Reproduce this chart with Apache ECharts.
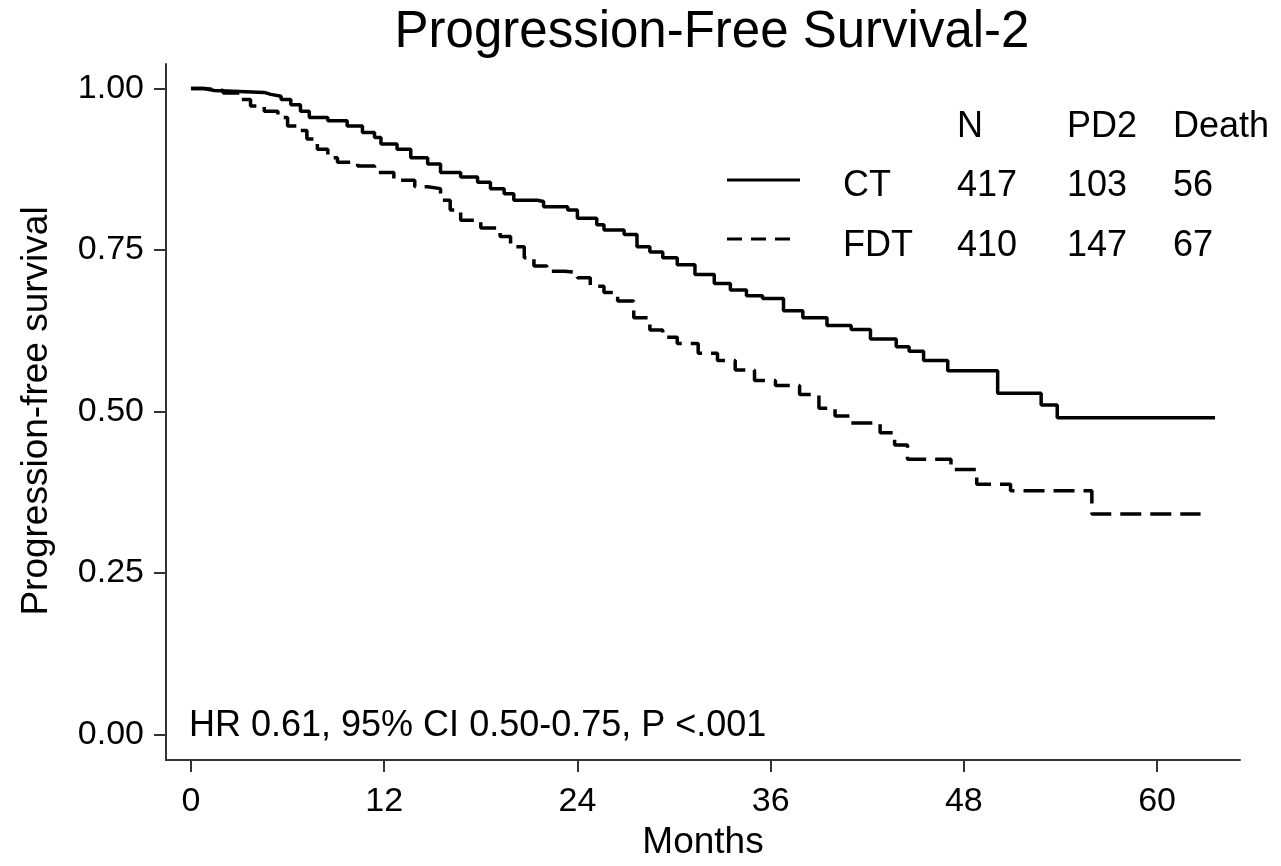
<!DOCTYPE html>
<html>
<head>
<meta charset="utf-8">
<script src="https://cdn.jsdelivr.net/npm/echarts@6/dist/echarts.min.js"></script>
<style>html,body{margin:0;padding:0;background:#fff;overflow:hidden;}#c{width:1281px;height:866px;}</style>
</head>
<body>
<div id="c"></div>
<script>
const titleText = 'Progression-Free Survival-2';
const xTicks = [0, 12, 24, 36, 48, 60];
const yTicks = [0, 0.25, 0.5, 0.75, 1.0];

const ctTime = [0, 0.8, 1.45, 4.55, 4.96, 5.6, 6.2, 6.8, 7.35, 8.5, 9.7, 10.65, 11.4, 11.8, 12.8, 13.65, 14.7, 15.5, 16.75, 17.8, 18.6, 19.45, 20.05, 21.5, 21.9, 23.4, 24.0, 25.2, 25.65, 26.9, 27.7, 28.5, 29.3, 30.2, 31.3, 32.5, 33.5, 34.5, 35.5, 36.8, 38.0, 39.5, 41.0, 42.2, 43.8, 44.6, 45.5, 47.0, 50.1, 52.8, 53.8, 63.6];
const ctSurv = [1.0, 0.997, 0.994, 0.991, 0.988, 0.983, 0.975, 0.965, 0.955, 0.950, 0.942, 0.932, 0.924, 0.914, 0.906, 0.893, 0.883, 0.870, 0.863, 0.855, 0.845, 0.837, 0.827, 0.825, 0.817, 0.812, 0.799, 0.789, 0.781, 0.774, 0.755, 0.747, 0.738, 0.727, 0.712, 0.698, 0.688, 0.679, 0.675, 0.656, 0.645, 0.633, 0.627, 0.612, 0.600, 0.593, 0.579, 0.563, 0.528, 0.510, 0.490, 0.490];

const fdtTime = [0, 0.8, 2.0, 3.1, 3.7, 4.55, 5.4, 6.0, 6.6, 7.2, 7.85, 8.5, 9.1, 10.35, 11.4, 12.6, 13.9, 14.7, 15.5, 16.1, 16.75, 18.0, 19.2, 19.85, 20.7, 21.3, 22.1, 23.2, 24.0, 24.8, 25.65, 26.5, 27.5, 28.5, 29.3, 30.2, 31.5, 32.7, 33.8, 35.0, 36.3, 37.8, 39.0, 40.0, 41.0, 42.8, 43.7, 44.5, 47.2, 48.8, 50.9, 55.95, 62.7];
const fdtSurv = [1.0, 0.997, 0.993, 0.983, 0.973, 0.965, 0.955, 0.942, 0.935, 0.922, 0.906, 0.893, 0.886, 0.880, 0.870, 0.858, 0.848, 0.845, 0.827, 0.812, 0.796, 0.784, 0.771, 0.755, 0.738, 0.725, 0.717, 0.715, 0.707, 0.694, 0.684, 0.671, 0.645, 0.626, 0.615, 0.605, 0.590, 0.579, 0.564, 0.548, 0.540, 0.526, 0.505, 0.493, 0.482, 0.467, 0.448, 0.426, 0.410, 0.387, 0.377, 0.341, 0.341];

const groups = ['CT', 'FDT'];
const tableHeader = ['N', 'PD2', 'Death'];
const tableN = [417, 410];
const tablePD2 = [103, 147];
const tableDeath = [56, 67];
const hrText = 'HR 0.61, 95% CI 0.50-0.75, P <.001';
const xName = 'Months';
const yName = 'Progression-free survival';

const FONT = '"Liberation Sans", Arial, sans-serif';
const chart = echarts.init(document.getElementById('c'), null, {renderer: 'canvas', width: 1281, height: 866});

const pairs = (t, s) => t.map((v, i) => [v, s[i]]);
const colX = [957, 1067, 1173];
const rowY = [186, 246];
const textStyle = (txt, x, y, size, align) => ({
  type: 'text', x: x, y: y,
  style: {text: txt, font: size + 'px ' + FONT, fill: '#000', textAlign: align || 'left', textVerticalAlign: 'middle'}
});

const graphics = [];
tableHeader.forEach((h, i) => graphics.push(textStyle(h, colX[i], 127, 36)));
groups.forEach((g, r) => {
  graphics.push(textStyle(g, 843, rowY[r], 36));
  graphics.push(textStyle(String(tableN[r]), colX[0], rowY[r], 36));
  graphics.push(textStyle(String(tablePD2[r]), colX[1], rowY[r], 36));
  graphics.push(textStyle(String(tableDeath[r]), colX[2], rowY[r], 36));
});
graphics.push({type: 'line', shape: {x1: 727, y1: 180, x2: 800, y2: 180}, style: {stroke: '#000', lineWidth: 3}});
graphics.push({type: 'line', shape: {x1: 727, y1: 239, x2: 792, y2: 239}, style: {stroke: '#000', lineWidth: 3, lineDash: [15, 9]}});
graphics.push(textStyle(hrText, 189, 726, 36));
graphics.push({
  type: 'text', x: 37, y: 411, rotation: Math.PI / 2,
  style: {text: yName, font: '37px ' + FONT, fill: '#000', textAlign: 'center', textVerticalAlign: 'middle'}
});

chart.setOption({
  animation: false,
  backgroundColor: '#fff',
  title: {
    text: titleText, left: 707, top: 2, textAlign: 'center',
    textStyle: {fontFamily: FONT, fontSize: 51, fontWeight: 'normal', color: '#000'}
  },
  grid: {left: 166, width: 1074, top: 64, height: 703, containLabel: false},
  xAxis: {
    type: 'value', min: -1.55, max: 65.15,
    name: xName, nameLocation: 'middle', nameGap: 57,
    nameTextStyle: {fontFamily: FONT, fontSize: 37, color: '#000'},
    axisLine: {show: true, onZero: false, lineStyle: {color: '#333', width: 2}},
    axisTick: {show: true, length: 12, lineStyle: {color: '#333', width: 2}, customValues: xTicks},
    axisLabel: {fontFamily: FONT, fontSize: 34, color: '#000', margin: 25, customValues: xTicks},
    splitLine: {show: false}
  },
  yAxis: {
    type: 'value', min: -0.04, max: 1.038,
    axisLine: {show: true, onZero: false, lineStyle: {color: '#333', width: 2}},
    axisTick: {show: true, length: 12, lineStyle: {color: '#333', width: 2}, customValues: yTicks},
    axisLabel: {fontFamily: FONT, fontSize: 34, color: '#000', margin: 22, customValues: yTicks,
      formatter: v => v.toFixed(2)},
    splitLine: {show: false}
  },
  series: [
    {name: groups[0], type: 'line', step: 'end', symbol: 'none', data: pairs(ctTime, ctSurv),
      lineStyle: {color: '#000', width: 3.5, type: 'solid'}},
    {name: groups[1], type: 'line', step: 'end', symbol: 'none', data: pairs(fdtTime, fdtSurv),
      lineStyle: {color: '#000', width: 3.5, type: [21, 9]}}
  ],
  graphic: graphics
});
</script>
</body>
</html>
